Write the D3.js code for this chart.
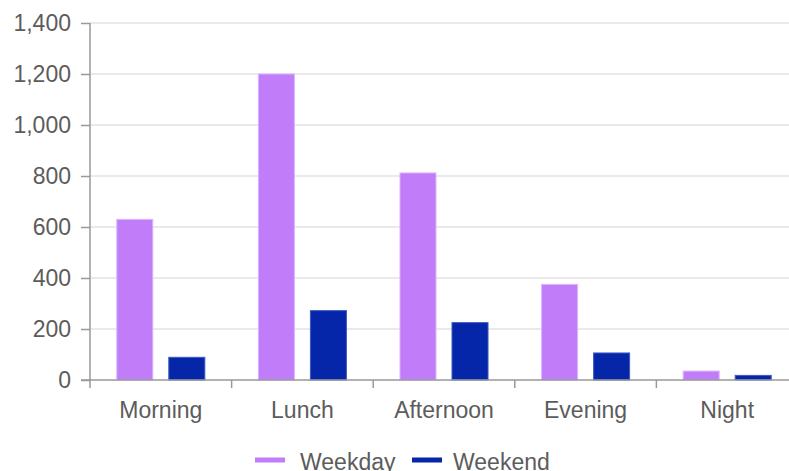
<!DOCTYPE html>
<html><head><meta charset="utf-8">
<script src="https://cdn.jsdelivr.net/npm/d3@7"></script>
<style>html,body{margin:0;padding:0;background:#fff;overflow:hidden}</style>
</head><body>
<svg id="chart" width="789" height="471"></svg>
<script>
const categories = ["Morning", "Lunch", "Afternoon", "Evening", "Night"];
const seriesNames = ["Weekday", "Weekend"];
const weekday = [630, 1200, 812, 375, 35];
const weekend = [89, 272, 225, 106, 18];
const yTicks = [0, 200, 400, 600, 800, 1000, 1200, 1400];
const colors = ["#c17cfa", "#0526a9"];
const strokes = ["#dcb4fd", "#3d58c4"];

const svg = d3.select("#chart");
const x0 = 90, x1 = 798, yTop = 23, yBot = 380;
const font = "'Liberation Sans', Arial, sans-serif";
const textColor = "#5c5c5c";
const fs = "23px";

const x = d3.scaleBand().domain(categories).range([x0, x1]).paddingInner(0).paddingOuter(0);
const xs = d3.scaleBand().domain(seriesNames).range([0, x.bandwidth()]).paddingInner(0.3077).paddingOuter(0.515);
const y = d3.scaleLinear().domain([0, 1400]).range([yBot, yTop]);

// gridlines
svg.append("g").selectAll("line").data(yTicks.filter(d => d > 0)).join("line")
  .attr("x1", x0).attr("x2", 789).attr("y1", d => y(d)).attr("y2", d => y(d))
  .attr("stroke", "#e3e3e3").attr("stroke-width", 1.5);

// bars
const data = categories.map((c, i) => ({c, vals: [weekday[i], weekend[i]]}));
const groups = svg.append("g").selectAll("g").data(data).join("g")
  .attr("transform", d => `translate(${x(d.c)},0)`);
groups.selectAll("rect").data(d => d.vals.map((v, j) => ({v, s: seriesNames[j], j}))).join("rect")
  .attr("x", d => xs(d.s)).attr("width", xs.bandwidth())
  .attr("y", d => y(d.v)).attr("height", d => yBot - y(d.v))
  .attr("fill", d => colors[d.j]).attr("stroke", d => strokes[d.j]).attr("stroke-width", 1);

// y axis
const yAxis = d3.axisLeft(y).tickValues(yTicks).tickSize(9).tickPadding(10).tickFormat(d3.format(","));
const gy = svg.append("g").attr("transform", `translate(${x0},0)`).call(yAxis);
gy.select(".domain").remove();
gy.append("line").attr("x1", 0).attr("x2", 0).attr("y1", yTop).attr("y2", yBot + 8).attr("stroke", "#999").attr("stroke-width", 1.5);
gy.selectAll(".tick line").attr("stroke", "#999").attr("stroke-width", 1.5);
gy.selectAll(".tick text").attr("fill", textColor).style("font-family", font).style("font-size", fs);

// x axis
const boundaries = categories.slice(1).map(c => x(c));
const gx = svg.append("g");
gx.append("line").attr("x1", x0 - 9).attr("x2", 789).attr("y1", yBot).attr("y2", yBot).attr("stroke", "#999").attr("stroke-width", 1.5);
gx.selectAll("line.b").data(boundaries).join("line").attr("class", "b")
  .attr("x1", d => d).attr("x2", d => d).attr("y1", yBot).attr("y2", yBot + 8)
  .attr("stroke", "#999").attr("stroke-width", 1.5);
gx.selectAll("text").data(categories).join("text")
  .attr("x", d => x(d) + x.bandwidth() / 2).attr("y", 418)
  .attr("text-anchor", "middle").attr("fill", textColor)
  .style("font-family", font).style("font-size", fs).text(d => d);

// legend
const legend = svg.append("g");
const legendItems = [{name: seriesNames[0], x: 255, tx: 300}, {name: seriesNames[1], x: 412, tx: 453}];
legendItems.forEach((it, i) => {
  legend.append("rect").attr("x", it.x).attr("y", 457.5).attr("width", 30).attr("height", 5).attr("fill", colors[i]);
  legend.append("text").attr("x", it.tx).attr("y", 469.5).attr("fill", textColor)
    .style("font-family", font).style("font-size", fs).text(it.name);
});
</script>
</body></html>
